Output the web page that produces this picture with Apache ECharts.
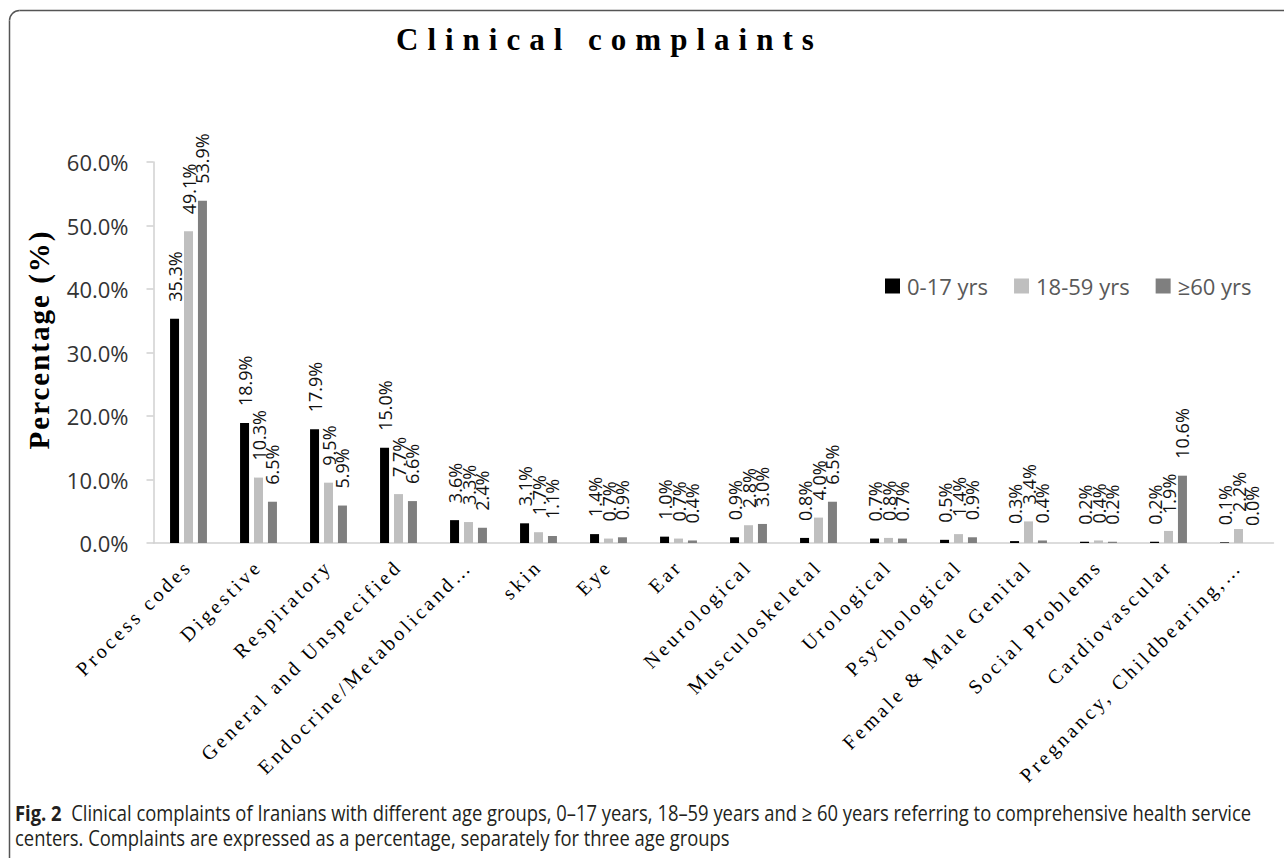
<!DOCTYPE html>
<html><head><meta charset="utf-8">
<script src="https://cdn.jsdelivr.net/npm/echarts@6/dist/echarts.min.js"></script>
<style>
html,body{margin:0;padding:0;background:#fff}
#c{width:1284px;height:858px}
#c text[style*="31px"]{letter-spacing:9px}
#c text[style*="29px"]{letter-spacing:2px}
#c text[style*="20px"][style*="Serif"]{letter-spacing:3.3px}
</style></head><body><div id="c"></div>
<script>
const categories = ['Process codes','Digestive','Respiratory','General and Unspecified','Endocrine/Metabolicand…','skin','Eye','Ear','Neurological','Musculoskeletal','Urological','Psychological','Female & Male Genital','Social Problems','Cardiovascular','Pregnancy, Childbearing,…'];
const seriesNames = ['0-17 yrs','18-59 yrs','≥60 yrs'];
const age0to17 = [35.3,18.9,17.9,15.0,3.6,3.1,1.4,1.0,0.9,0.8,0.7,0.5,0.3,0.2,0.2,0.1];
const age18to59 = [49.1,10.3,9.5,7.7,3.3,1.7,0.7,0.7,2.8,4.0,0.8,1.4,3.4,0.4,1.9,2.2];
const age60plus = [53.9,6.5,5.9,6.6,2.4,1.1,0.9,0.4,3.0,6.5,0.7,0.9,0.4,0.2,10.6,0.0];
const yMin = 0, yMax = 60, yStep = 10;
const colors = ['#000000','#bfbfbf','#7f7f7f'];
const captionLine1 = 'Clinical complaints of Iranians with different age groups, 0–17 years, 18–59 years and ≥ 60 years referring to comprehensive health service';
const captionLine2 = 'centers. Complaints are expressed as a percentage, separately for three age groups';

function measure(text, font){
  const c=document.createElement('canvas').getContext('2d');
  c.font=font; return c.measureText(text).width;
}
const capFont = 22;
const capW = measure('Fig. 2', "bold "+capFont+"px 'Open Sans'") + measure('  '+captionLine1, capFont+"px 'Open Sans'");
const capScale = (1252-15)/capW;

const chart = echarts.init(document.getElementById('c'), null, {renderer:'svg'});
const data = [age0to17, age18to59, age60plus];
const series = seriesNames.map((n,i)=>({
  name:n, type:'bar', data:data[i], barWidth:9, barGap:'55%',
  itemStyle:{color:colors[i]},
  label:{show:true, position:'top', rotate:90, align:'left', verticalAlign:'middle', distance:17,
    color:'#111', fontFamily:"'Open Sans'", fontSize:18,
    formatter:p=>p.value.toFixed(1)+'%'}
}));

chart.setOption({
  animation:false,
  backgroundColor:'#fff',
  title:{text:'Clinical complaints', left:396, top:24, padding:0,
    textStyle:{fontFamily:"'Liberation Serif'", fontWeight:'bold', fontSize:31, color:'#000'}},
  legend:{left:885, top:275, padding:0, itemWidth:15, itemHeight:15, itemGap:26, icon:'rect',
    textStyle:{fontFamily:"'Open Sans'", fontSize:22, color:'#595959', padding:[0,0,0,2]},
    data:seriesNames},
  grid:{left:153.5, right:10.5, top:162, bottom:315, containLabel:false},
  xAxis:{type:'category', data:categories,
    axisLine:{lineStyle:{color:'#d0d0d0', width:1.5}},
    axisTick:{show:false},
    axisLabel:{interval:0, rotate:45, margin:20, color:'#000',
      fontFamily:"'Liberation Serif'", fontSize:20}},
  yAxis:{type:'value', min:yMin, max:yMax, interval:yStep,
    name:'Percentage (%)', nameLocation:'middle', nameGap:100,
    nameTextStyle:{fontFamily:"'Liberation Serif'", fontWeight:'bold', fontSize:29, color:'#000', padding:[0,0,0,26]},
    axisLine:{show:true, lineStyle:{color:'#d0d0d0', width:1.5}},
    axisTick:{show:true, inside:false, length:7, lineStyle:{color:'#d0d0d0', width:1.5}},
    splitLine:{show:false},
    axisLabel:{margin:25, color:'#333', fontFamily:"'Open Sans'", fontSize:22,
      formatter:v=>v.toFixed(1)+'%'}},
  series:series,
  graphic:[
    {type:'polyline', shape:{points:[[9.5,858],[9.5,20.5]]}, style:{fill:null, stroke:'#555', lineWidth:1.5}, silent:true},
    {type:'arc', shape:{cx:19.5, cy:20.5, r:10, startAngle:Math.PI, endAngle:Math.PI*1.5, clockwise:true}, style:{fill:null, stroke:'#555', lineWidth:1.5}, silent:true},
    {type:'polyline', shape:{points:[[19.5,10.5],[1284,10.5]]}, style:{fill:null, stroke:'#555', lineWidth:1.5}, silent:true},
    {type:'text', x:15, y:812, scaleX:capScale, originX:0,
      style:{text:'{b|Fig. 2}  '+captionLine1, fontFamily:"'Open Sans'", fontSize:capFont, fill:'#231f20',
        verticalAlign:'middle', rich:{b:{fontWeight:'bold', fontFamily:"'Open Sans'", fontSize:capFont, fill:'#231f20'}}}},
    {type:'text', x:15, y:837, scaleX:capScale, originX:0,
      style:{text:captionLine2, fontFamily:"'Open Sans'", fontSize:capFont, fill:'#231f20', verticalAlign:'middle'}}
  ]
});
</script></body></html>
